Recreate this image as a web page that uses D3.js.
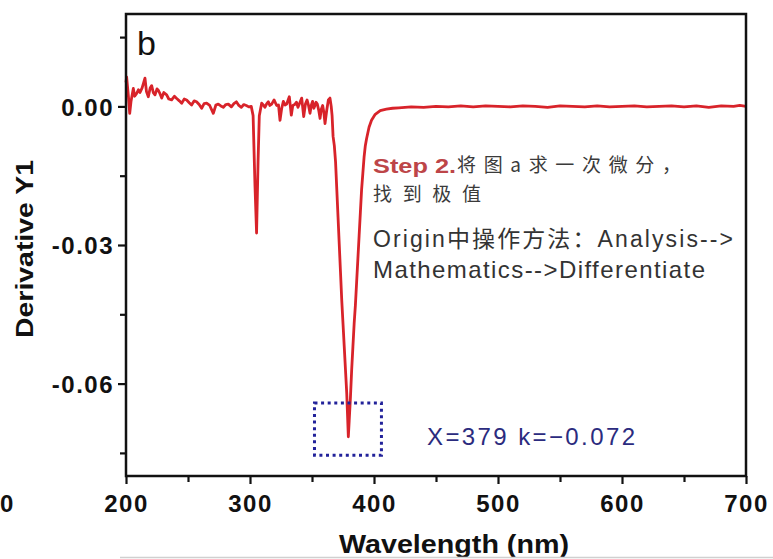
<!DOCTYPE html>
<html>
<head>
<meta charset="utf-8">
<script src="https://cdn.jsdelivr.net/npm/d3@7"></script>
<style>
    body { margin: 0; background: #fff; }
    #chart { width: 773px; height: 559px; }
    text { font-family: "Liberation Sans", Arial, "Noto Sans CJK SC", sans-serif; }
</style>
</head>
<body>
<div id="chart"></div>
<script>
// First derivative of the absorption spectrum
const wavelength = [
    200, 200.5, 202, 203, 204, 205.9, 207, 208.6, 210, 211.3, 213, 215.3, 216.5, 218, 219.5,
    220.7, 222, 223.4, 225, 226, 227.5, 228.8, 230.5, 232.8, 234.5, 236.8, 239, 240.9, 243,
    244.9, 247, 248.9, 251, 252.9, 255, 256.9, 259, 261, 263, 265, 267.5, 270.4, 272.5, 274.4,
    276.5, 278.5, 280.5, 282.5, 285, 287, 289, 291, 293, 295, 297, 299, 301, 302.5, 304,
    305.3, 306.5, 307.5, 309.4, 311, 312, 313.5, 314.8, 316, 317.5, 319.4, 321.5, 323, 324.2,
    325.5, 326.9, 328.3, 329.6, 331.7, 333.3, 334.5, 336, 337.5, 338.7, 340.2, 341.7, 343.3,
    344.7, 346, 347.2, 348.4, 349.5, 350.5, 351.5, 352.4, 353.3, 354.3, 355.4, 356.5, 357.5,
    358.6, 359.5, 360.5, 361.8, 363.2, 364.5, 365.5, 366.2, 367, 368, 369, 370, 371, 372,
    373, 374, 375, 376, 377, 378, 379.3, 380, 381, 382, 383, 384, 385, 386, 387, 388, 389,
    390, 391, 392, 393, 394, 396, 398, 401, 405, 410, 415, 420, 430, 440, 450, 460, 470, 480,
    490, 500, 510, 520, 530, 540, 550, 560, 570, 580, 590, 600, 610, 620, 630, 640, 650, 660,
    670, 680, 690, 695, 700
];
const derivY1 = [
    0.0052, 0.0064, 0.0020, -0.0015, 0.0010, 0.0039, 0.0022, 0.0028, 0.0036, 0.0030, 0.0040, 0.0061, 0.0032, 0.0021, 0.0040,
    0.0045, 0.0030, 0.0025, 0.0038, 0.0035, 0.0027, 0.0018, 0.0030, 0.0025, 0.0016, 0.0014, 0.0022, 0.0017, 0.0012,
    0.0007, 0.0016, 0.0014, 0.0008, 0.0003, 0.0012, 0.0010, 0.0004, -0.0004, 0.0006, 0.0007, 0.0002, -0.0015, 0.0003, 0.0005,
    0.0001, -0.0002, 0.0004, 0.0005, -0.0001, 0.0006, 0.0010, 0.0002, -0.0002, 0.0004, 0.0002, -0.0001, 0.0000, -0.0020, -0.0170,
    -0.0274, -0.0120, -0.0020, 0.0007, 0.0002, -0.0002, 0.0006, 0.0010, 0.0002, 0.0005, 0.0014, 0.0002, 0.0003, -0.0030,
    -0.0005, 0.0011, 0.0003, 0.0005, 0.0021, -0.0019, 0.0002, 0.0004, 0.0009, -0.0002, 0.0008, 0.0018, -0.0022,
    0.0005, 0.0014, 0.0002, -0.0015, 0.0003, 0.0011, -0.0004, 0.0002, 0.0009, 0.0005, -0.0008, -0.0026, -0.0006,
    0.0002, -0.0012, -0.0037, -0.0010, 0.0014, 0.0018, 0.0000, -0.0020, -0.0065, -0.0085, -0.0120, -0.0180, -0.0240, -0.0300,
    -0.0360, -0.0420, -0.0470, -0.0520, -0.0570, -0.0620, -0.0715, -0.0680, -0.0630, -0.0570, -0.0520, -0.0470, -0.0430, -0.0380, -0.0330, -0.0280, -0.0230,
    -0.0180, -0.0145, -0.0110, -0.0085, -0.0070, -0.0045, -0.0030, -0.0017, -0.0009, -0.0006, -0.0004, -0.0003, -0.0001, -0.0002, 0.0000, -0.0001, 0.0001, -0.0001,
    0.0001, 0.0000, -0.0001, 0.0001, 0.0000, -0.0002, 0.0001, 0.0000, -0.0001, 0.0001, -0.0001, 0.0000, 0.0001, -0.0001, 0.0000, 0.0001, -0.0001, 0.0001,
    -0.0002, 0.0001, 0.0000, 0.0002, 0.0000
];

// Axis ticks
const xTicks = [200, 300, 400, 500, 600, 700];
const xMinorTicks = [250, 350, 450, 550, 650];
const yTicks = [0, -0.03, -0.06];
const yMinorTicks = [0.015, -0.015, -0.045, -0.075];

// Extremum found on the curve and the box drawn round it
const peak = { x: 379, k: -0.072 };
const boxX = [352, 406];
const boxY = [-0.0642, -0.0755];

const width = 773, height = 559;
const margin = { top: 14, right: 27, bottom: 83, left: 126 };
const chartWidth = width - margin.left - margin.right;
const chartHeight = height - margin.top - margin.bottom;

const svg = d3.select('#chart')
    .append('svg')
    .attr('width', width)
    .attr('height', height);

const g = svg.append('g')
    .attr('transform', `translate(${margin.left},${margin.top})`);

const xScale = d3.scaleLinear().domain([200, 700]).range([0, chartWidth]);
const yScale = d3.scaleLinear().domain([-0.08, 0.02]).range([chartHeight, 0]);

// Curve
const line = d3.line()
    .x((d, i) => xScale(wavelength[i]))
    .y(d => yScale(d));

g.append('path')
    .datum(derivY1)
    .attr('fill', 'none')
    .attr('stroke', '#d8232a')
    .attr('stroke-width', 2.8)
    .attr('stroke-linejoin', 'round')
    .attr('d', line);

// Major and minor ticks on the bottom and left
const styleTicks = sel => {
    sel.select('.domain').remove();
    sel.selectAll('line').attr('stroke', '#111').attr('stroke-width', 2.2);
};

// Wide bold digits like the reference
const styleLabels = (sel, size) => sel
    .style('font-size', size + 'px')
    .style('font-weight', 'bold')
    .style('letter-spacing', '1.5px')
    .attr('fill', '#111');

g.append('g')
    .attr('transform', `translate(0,${chartHeight})`)
    .call(d3.axisBottom(xScale).tickValues(xMinorTicks).tickSize(6).tickFormat(''))
    .call(styleTicks);

g.append('g')
    .attr('transform', `translate(0,${chartHeight})`)
    .call(d3.axisBottom(xScale).tickValues(xTicks).tickSize(8).tickPadding(11).tickFormat(d3.format('d')))
    .call(styleTicks)
    .selectAll('text')
    .call(styleLabels, 24);

g.append('g')
    .call(d3.axisLeft(yScale).tickValues(yMinorTicks).tickSize(6).tickFormat(''))
    .call(styleTicks);

g.append('g')
    .call(d3.axisLeft(yScale).tickValues(yTicks).tickSize(8).tickPadding(4).tickFormat(d => d.toFixed(2)))
    .call(styleTicks)
    .selectAll('text')
    .call(styleLabels, 24)
    .attr('dy', '0.36em');

// Frame
g.append('rect')
    .attr('width', chartWidth)
    .attr('height', chartHeight)
    .attr('fill', 'none')
    .attr('stroke', '#111')
    .attr('stroke-width', 2.5);

// Text helper: fit the text to the width seen in the picture
function addText(x, y, str, size, opts = {}) {
    const t = svg.append('text')
        .attr('x', x)
        .attr('y', y)
        .style('font-size', size + 'px')
        .attr('fill', opts.color || '#111')
        .text(str);
    if (opts.bold) t.style('font-weight', 'bold');
    if (opts.anchor) t.attr('text-anchor', opts.anchor);
    if (opts.family) t.style('font-family', opts.family);
    if (opts.length) {
        t.attr('textLength', opts.length)
            .attr('lengthAdjust', opts.adjust || 'spacingAndGlyphs');
    }
    return t;
}

// Axis titles
addText(454, 553, 'Wavelength (nm)', 25, { bold: true, anchor: 'middle', length: 230 });
addText(0, 0, 'Derivative Y1', 23, { bold: true, anchor: 'middle', length: 178 })
    .attr('transform', 'translate(33,249) rotate(-90)');

// Cut-off label of the neighbouring panel
addText(0, 512, '0', 24, { bold: true });

// Panel letter
addText(137, 55, 'b', 34);

// Notes
const cjk = '"Noto Sans CJK SC", sans-serif';
addText(373, 173, 'Step 2.', 21, { bold: true, color: '#bd4548', length: 83 });
addText(457, 172, '将图a求一次微分，', 19, { color: '#3a3a3a', family: cjk, length: 224, adjust: 'spacing' });
addText(373, 201, '找到极值', 19, { color: '#3a3a3a', family: cjk, length: 108, adjust: 'spacing' });
addText(373, 247, 'Origin中操作方法：Analysis-->', 23, { color: '#333', length: 360, adjust: 'spacing' });
addText(373, 278, 'Mathematics-->Differentiate', 24, { color: '#333', length: 332, adjust: 'spacing' });

// Dotted box round the minimum
g.append('rect')
    .attr('x', xScale(boxX[0]))
    .attr('y', yScale(boxY[0]))
    .attr('width', xScale(boxX[1]) - xScale(boxX[0]))
    .attr('height', yScale(boxY[1]) - yScale(boxY[0]))
    .attr('fill', 'none')
    .attr('stroke', '#22229a')
    .attr('stroke-width', 3)
    .attr('stroke-dasharray', '3 3.6');

addText(427, 445, `X=${peak.x} k=${peak.k.toFixed(3).replace('-', '\u2212')}`, 24,
    { color: '#2b2b7e', length: 208, adjust: 'spacing' });

// Thin grey rule along the bottom edge
svg.append('line')
    .attr('x1', 120)
    .attr('x2', width)
    .attr('y1', 557.5)
    .attr('y2', 557.5)
    .attr('stroke', '#d0d0d0')
    .attr('stroke-width', 1.5);
</script>
</body>
</html>
